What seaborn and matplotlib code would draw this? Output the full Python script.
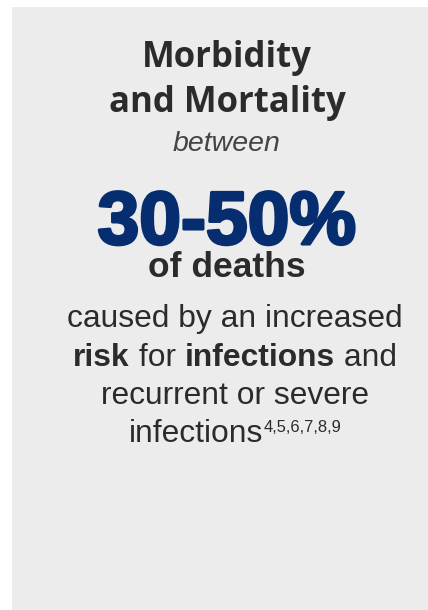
import matplotlib
matplotlib.use("Agg")
import matplotlib.pyplot as plt
import matplotlib.patheffects as pe
import seaborn as sns

# card content
title_lines = ["Morbidity", "and Mortality"]
subtitle = "between"
big_value = "30-50%"
value_caption = "of deaths"
# body lines as (text, bold) runs
body_lines = [
    [("caused by an increased", False)],
    [("risk", True), (" for ", False), ("infections", True), (" and", False)],
    [("recurrent or severe", False)],
    [("infections", False)],
]
refs = "4,5,6,7,8,9"

sns.set_style("white")
plt.rcParams['font.family'] = ['Liberation Sans', 'DejaVu Sans']

W, H = 428, 610
fig = plt.figure(figsize=(W / 100, H / 100), dpi=100)
ax = fig.add_axes([0, 0, 1, 1])
ax.set_xlim(0, W)
ax.set_ylim(H, 0)
ax.axis("off")

card = "#ececec"
dark = "#2b2b2b"
navy = "#062d6f"
ax.add_patch(plt.Rectangle((12, 7), W - 12, H - 7, color=card, lw=0))

cx = 227
ax.text(cx, 67, title_lines[0], ha="center", va="baseline", fontsize=25,
        fontweight="bold", family=["Open Sans", "DejaVu Sans"], color=dark)
ax.text(cx, 112, title_lines[1], ha="center", va="baseline", fontsize=25,
        fontweight="bold", family=["Open Sans", "DejaVu Sans"], color=dark)
ax.text(cx, 151, subtitle, ha="center", va="baseline", fontsize=20.5,
        style="italic", color="#444444")
big = ax.text(cx, 244, big_value, ha="center", va="baseline", fontsize=54,
              fontweight="bold", color=navy,
              path_effects=[pe.withStroke(linewidth=2.2, foreground=navy)])
ax.text(cx, 277, value_caption, ha="center", va="baseline", fontsize=25.5,
        fontweight="bold", color=dark)

fig.canvas.draw()
renderer = fig.canvas.get_renderer()
inv = ax.transData.inverted()


def width_of(t):
    bb = t.get_window_extent(renderer)
    p0 = inv.transform((bb.x0, bb.y0))
    p1 = inv.transform((bb.x1, bb.y0))
    return p1[0] - p0[0]


bx = 235
baselines = [327, 366, 404, 442]
body_size = 22.9
for i, runs in enumerate(body_lines):
    pieces = []
    for txt, bold in runs:
        t = ax.text(0, baselines[i], txt, ha="left", va="baseline",
                    fontsize=body_size, color=dark,
                    fontweight="bold" if bold else "normal")
        pieces.append(t)
    if i == len(body_lines) - 1:
        sup = ax.text(0, baselines[i] - 10, refs, ha="left", va="baseline",
                      fontsize=11.9, color=dark)
        pieces.append(sup)
    widths = [width_of(p) for p in pieces]
    x = bx - sum(widths) / 2
    for p, w in zip(pieces, widths):
        p.set_x(x)
        x += w

fig.savefig("out.png", dpi=100, facecolor="white")
